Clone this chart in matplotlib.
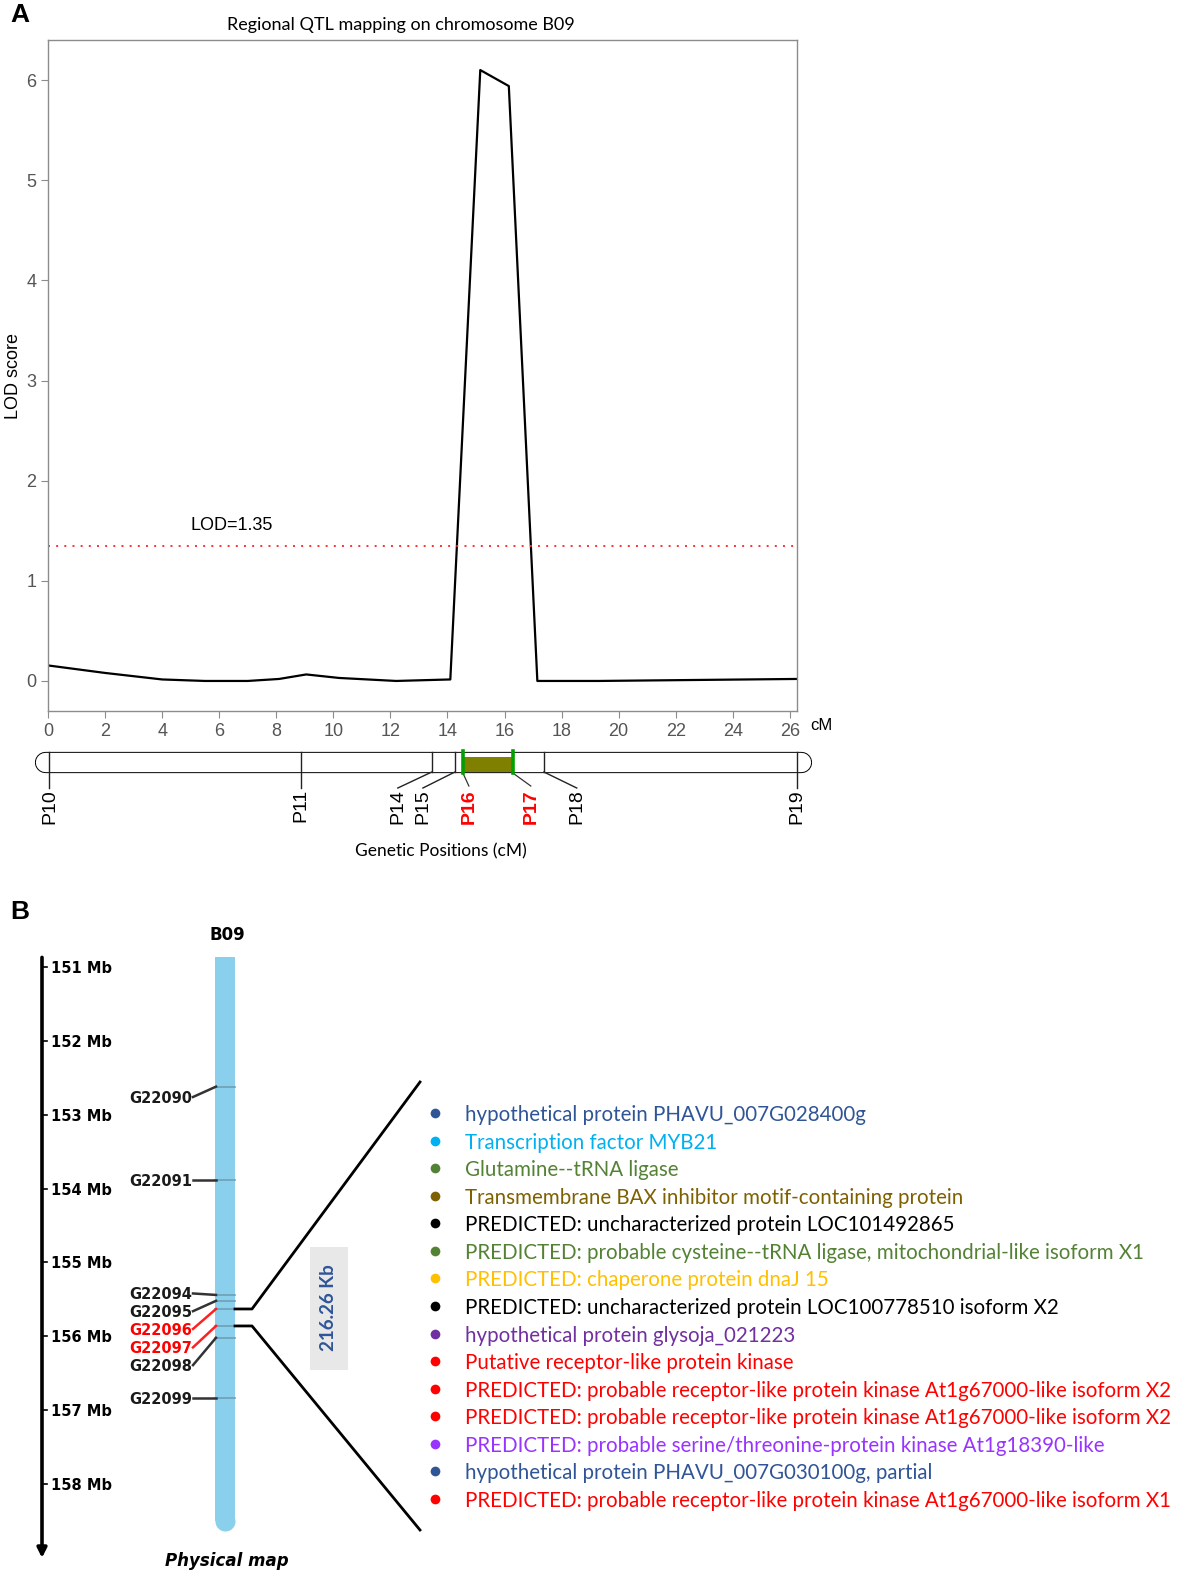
import matplotlib.pyplot as plt
from matplotlib.patches import Rectangle

W, H = 1181, 1574

# ---- data: panel A (LOD profile) ----
pos_cm = [0, 2, 4, 5.5, 7, 8.1, 9.05, 10.2, 12.2, 14.1, 15.15, 16.15, 17.15, 19.3, 26.25]
lod = [0.155, 0.08, 0.015, 0.0, 0.0, 0.02, 0.065, 0.03, 0.0, 0.015, 6.1, 5.94, 0.0, 0.0, 0.02]
lod_threshold = 1.35
x_ticks = list(range(0, 27, 2))
y_ticks = list(range(0, 7))

marker_names = ['P10', 'P11', 'P14', 'P15', 'P16', 'P17', 'P18', 'P19']
marker_cm = [0.05, 8.86, 13.45, 14.26, 14.54, 16.29, 17.38, 26.24]
marker_label_cm = [0.05, 8.86, 12.26, 13.14, 14.75, 16.92, 18.53, 26.24]
marker_red = ['P16', 'P17']

# ---- data: panel B (physical map) ----
mb_ticks = [151, 152, 153, 154, 155, 156, 157, 158]
gene_names = ['G22090', 'G22091', 'G22094', 'G22095', 'G22096', 'G22097', 'G22098', 'G22099']
gene_mb = [152.62, 153.88, 155.44, 155.52, 155.63, 155.86, 156.02, 156.84]
gene_label_mb = [152.76, 153.88, 155.42, 155.66, 155.90, 156.15, 156.39, 156.84]
gene_red = ['G22096', 'G22097']
interval_mb = [155.63, 155.86]
interval_text = '216.26 Kb'

protein_names = [
    'hypothetical protein PHAVU_007G028400g',
    'Transcription factor MYB21',
    'Glutamine--tRNA ligase',
    'Transmembrane BAX inhibitor motif-containing protein',
    'PREDICTED: uncharacterized protein LOC101492865',
    'PREDICTED: probable cysteine--tRNA ligase, mitochondrial-like isoform X1',
    'PREDICTED: chaperone protein dnaJ 15',
    'PREDICTED: uncharacterized protein LOC100778510 isoform X2',
    'hypothetical protein glysoja_021223',
    'Putative receptor-like protein kinase',
    'PREDICTED: probable receptor-like protein kinase At1g67000-like isoform X2',
    'PREDICTED: probable receptor-like protein kinase At1g67000-like isoform X2',
    'PREDICTED: probable serine/threonine-protein kinase At1g18390-like',
    'hypothetical protein PHAVU_007G030100g, partial',
    'PREDICTED: probable receptor-like protein kinase At1g67000-like isoform X1',
]
protein_colors = ['#2F5597', '#00B0F0', '#548235', '#7F6000', '#000000',
                  '#548235', '#FFC000', '#000000', '#7030A0', '#FF0000',
                  '#FF0000', '#FF0000', '#9933FF', '#2F5597', '#FF0000']

fig = plt.figure(figsize=(W / 100, H / 100), dpi=100)


def box(l, t, r, b):
    return [l / W, 1 - b / H, (r - l) / W, (b - t) / H]


def ftext(x, y, s, **kw):
    fig.text(x / W, 1 - y / H, s, **kw)


# ================= Panel A =================
ax = fig.add_axes(box(48, 40, 797, 711))
ax.plot(pos_cm, lod, color='black', lw=1.6)
ax.axhline(lod_threshold, color='#ff3030', lw=1.4, ls=(0, (1, 3.2)))
ax.text(5.0, lod_threshold + 0.12, 'LOD=%.2f' % lod_threshold, fontsize=13,
        family='Liberation Sans', va='bottom')
ax.set_xlim(0, 26.25)
ax.set_ylim(-0.3, 6.4)
ax.set_xticks(x_ticks)
ax.set_yticks(y_ticks)
for s in ax.spines.values():
    s.set_color('#8c8c8c')
    s.set_linewidth(1)
ax.tick_params(direction='out', length=5, color='#8c8c8c', labelcolor='#555555',
               labelsize=13)
for lab in ax.get_xticklabels() + ax.get_yticklabels():
    lab.set_family('Liberation Sans')
ftext(13, 376, 'LOD score', fontsize=13, family='Liberation Sans', rotation=90,
      ha='center', va='center')
ax.text(26.7, -0.44, 'cM', fontsize=12, family='Liberation Sans', va='center')

ftext(401, 25, 'Regional QTL mapping on chromosome B09', fontsize=13,
      family='Lato', ha='center', va='center')
ftext(20, 15, 'A', fontsize=19, weight='bold', family='Liberation Sans',
      ha='center', va='center')

# genetic map bar
axb = fig.add_axes(box(48, 740, 797, 840))
axb.set_xlim(0, 26.25)
axb.set_ylim(100, 0)
axb.axis('off')
axb.plot([-0.088, 26.40], [22, 22], color='black', lw=15.3, solid_capstyle='round',
         clip_on=False)
axb.plot([-0.088, 26.40], [22, 22], color='white', lw=13.9, solid_capstyle='round',
         clip_on=False)
p16 = marker_cm[marker_names.index('P16')]
p17 = marker_cm[marker_names.index('P17')]
axb.add_patch(Rectangle((p16, 16.5), p17 - p16, 15.5, facecolor='#808000',
                        edgecolor='none', zorder=3))
for name, xm, xl in zip(marker_names, marker_cm, marker_label_cm):
    red = name in marker_red
    if red:
        axb.plot([xm, xm], [11, 33], color='#00a000', lw=2.6, zorder=4)
        axb.plot([xm, xl], [33, 46], color='#333333', lw=0.9)
    elif abs(xl - xm) < 0.01:
        axb.plot([xm, xm], [12, 48], color='#222222', lw=1.0, clip_on=False)
    else:
        axb.plot([xm, xm], [12, 32], color='#222222', lw=1.0)
        axb.plot([xm, xl], [32, 48], color='#222222', lw=1.0)
    axb.text(xl, 49, name, rotation=90, ha='center', va='top', fontsize=14,
             family='Liberation Sans', color='red' if red else 'black',
             weight='bold' if red else 'normal', clip_on=False)

ftext(441, 851, 'Genetic Positions (cM)', fontsize=12.5, family='Lato',
      ha='center', va='center')

# ================= Panel B =================
ftext(20, 912, 'B', fontsize=19, weight='bold', family='Liberation Sans',
      ha='center', va='center')

mb_top = 151 - 27 / 73.86
mb_bot = 151 + 607 / 73.86
axp = fig.add_axes(box(0, 940, W, H))
axp.set_xlim(0, W)
axp.set_ylim(mb_bot, mb_top)
axp.axis('off')

# Mb axis arrow
axp.annotate('', xy=(42, 159.0), xytext=(42, 150.87),
             arrowprops=dict(arrowstyle='-|>', color='black', lw=2.6,
                             mutation_scale=14, shrinkA=0, shrinkB=0))
for mb in mb_ticks:
    axp.plot([42, 47], [mb, mb], color='black', lw=1.2)
    axp.text(51, mb, '%d Mb' % mb, fontsize=10.5, weight='bold',
             family='DejaVu Sans', va='center_baseline', ha='left')

# chromosome
axp.plot([225, 225], [150.86, 158.5], color='#8ACFEB', lw=14.4,
         solid_capstyle='butt', zorder=1)
axp.plot([225], [158.5], 'o', color='#8ACFEB', ms=14.4, mec='none', zorder=1)
axp.text(227, 150.54, 'B09', fontsize=12, weight='bold', family='DejaVu Sans',
         ha='center', va='center_baseline')
axp.text(227, 159.02, 'Physical map', fontsize=12, weight='bold', style='italic',
         family='DejaVu Sans', ha='center', va='center_baseline')

for name, mb, lmb in zip(gene_names, gene_mb, gene_label_mb):
    red = name in gene_red
    c = '#ff2020' if red else '#333333'
    axp.plot([215, 235], [mb, mb], color='#6f9fb4', lw=1.2, zorder=2)
    axp.plot([193, 216], [lmb, mb], color=c, lw=1.8, zorder=3)
    axp.text(192, lmb, name, fontsize=10.5, weight='bold', family='DejaVu Sans',
             color='red' if red else '#1a1a1a', ha='right', va='center_baseline')

# zoom lines to gene list
top_end = 151 + (1082 - 967) / 73.86
bot_end = 151 + (1530 - 967) / 73.86
axp.plot([235, 252, 420], [interval_mb[0], interval_mb[0], top_end], color='black', lw=2)
axp.plot([235, 252, 420], [interval_mb[1], interval_mb[1], bot_end], color='black', lw=2)

# interval size label
axp.add_patch(Rectangle((310, 151 + (1247 - 967) / 73.86), 38, 123 / 73.86,
                        facecolor='#e8e8e8', edgecolor='none'))
axp.text(329, 151 + (1308 - 967) / 73.86, interval_text, rotation=90, fontsize=13.5,
         weight='bold', family='Lato', color='#2F5597', ha='center', va='center')

# gene list
axl = fig.add_axes(box(0, 1099.2, W, 1512.8))
axl.set_xlim(0, W)
axl.set_ylim(len(protein_names) - 0.5, -0.5)
axl.axis('off')
texts = []
for i, (name, col) in enumerate(zip(protein_names, protein_colors)):
    axl.plot([435], [i], 'o', color=col, ms=7, mec='none')
    texts.append(axl.text(465, i, name, color=col, fontsize=14, family='Lato',
                          ha='left', va='center_baseline'))

# fit the longest line to its width in the reference
r = fig.canvas.get_renderer()
widest = max(t.get_window_extent(r).width for t in texts)
scale = 710 / widest
for t in texts:
    t.set_fontsize(14 * scale)

fig.savefig('out.png', dpi=100)
